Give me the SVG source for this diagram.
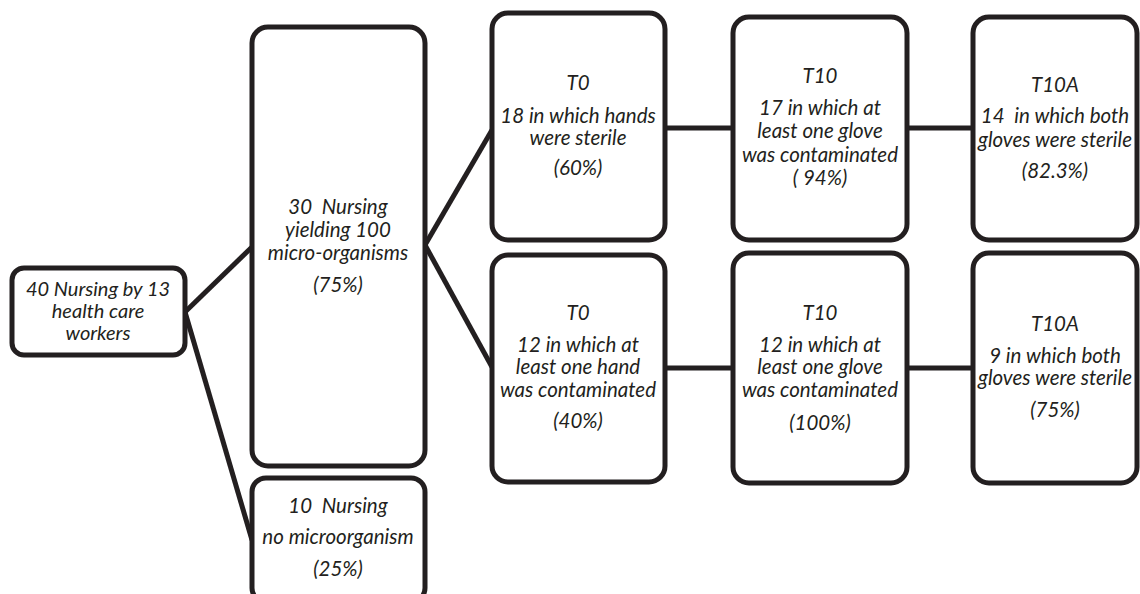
<svg xmlns="http://www.w3.org/2000/svg" width="1140" height="594" viewBox="0 0 1140 594">
<style>
.box{fill:#fff;stroke:#231f20;stroke-width:5}
.ln{stroke:#231f20;stroke-width:5;fill:none}
text{font-family:Lato,"Open Sans","Liberation Sans",sans-serif;font-style:italic;font-size:20.5px;fill:#231f20;text-anchor:middle;white-space:pre}
#n1 text{font-size:20px}
</style>
<rect width="1140" height="594" fill="#fff"/>
<g id="connectors">
<line class="ln" x1="185" y1="312" x2="252" y2="247"/>
<line class="ln" x1="185" y1="312" x2="252" y2="540"/>
<line class="ln" x1="425" y1="245" x2="492" y2="130"/>
<line class="ln" x1="425" y1="245" x2="492" y2="367"/>
<line class="ln" x1="665" y1="128" x2="733" y2="128"/>
<line class="ln" x1="907" y1="128" x2="973" y2="128"/>
<line class="ln" x1="665" y1="368" x2="733" y2="368"/>
<line class="ln" x1="907" y1="368" x2="973" y2="368"/>
</g>
<g id="n1">
<rect class="box" x="12" y="268" width="173" height="87" rx="12"/>
<text x="98" y="296">40 Nursing by 13</text>
<text x="98" y="318">health care</text>
<text x="98" y="340">workers</text>
</g>
<g id="n2">
<rect class="box" x="252" y="27" width="173" height="439" rx="16"/>
<text x="338" y="214">30  Nursing</text>
<text x="338" y="237">yielding 100</text>
<text x="338" y="260">micro-organisms</text>
<text x="338" y="292">(75%)</text>
</g>
<g id="n3">
<rect class="box" x="252" y="478" width="173" height="124" rx="14"/>
<text x="338" y="513">10  Nursing</text>
<text x="338" y="544">no microorganism</text>
<text x="338" y="576">(25%)</text>
</g>
<g id="t0a">
<rect class="box" x="492" y="13" width="173" height="227" rx="16"/>
<text x="578" y="90">T0</text>
<text x="578" y="123">18 in which hands</text>
<text x="578" y="145">were sterile</text>
<text x="578" y="175">(60%)</text>
</g>
<g id="t10a">
<rect class="box" x="733" y="17" width="174" height="223" rx="16"/>
<text x="820" y="83">T10</text>
<text x="820" y="115">17 in which at</text>
<text x="820" y="138">least one glove</text>
<text x="820" y="162">was contaminated</text>
<text x="820" y="185">( 94%)</text>
</g>
<g id="t10aa">
<rect class="box" x="973" y="17" width="164" height="223" rx="16"/>
<text x="1055" y="92">T10A</text>
<text x="1055" y="123">14  in which both</text>
<text x="1055" y="147">gloves were sterile</text>
<text x="1055" y="178">(82.3%)</text>
</g>
<g id="t0b">
<rect class="box" x="492" y="255" width="173" height="227" rx="16"/>
<text x="578" y="320">T0</text>
<text x="578" y="352">12 in which at</text>
<text x="578" y="374">least one hand</text>
<text x="578" y="397">was contaminated</text>
<text x="578" y="428">(40%)</text>
</g>
<g id="t10b">
<rect class="box" x="733" y="253" width="174" height="230" rx="16"/>
<text x="820" y="320">T10</text>
<text x="820" y="352">12 in which at</text>
<text x="820" y="374">least one glove</text>
<text x="820" y="397">was contaminated</text>
<text x="820" y="430">(100%)</text>
</g>
<g id="t10ab">
<rect class="box" x="973" y="253" width="164" height="230" rx="16"/>
<text x="1055" y="331">T10A</text>
<text x="1055" y="363">9 in which both</text>
<text x="1055" y="385">gloves were sterile</text>
<text x="1055" y="417">(75%)</text>
</g>
</svg>
